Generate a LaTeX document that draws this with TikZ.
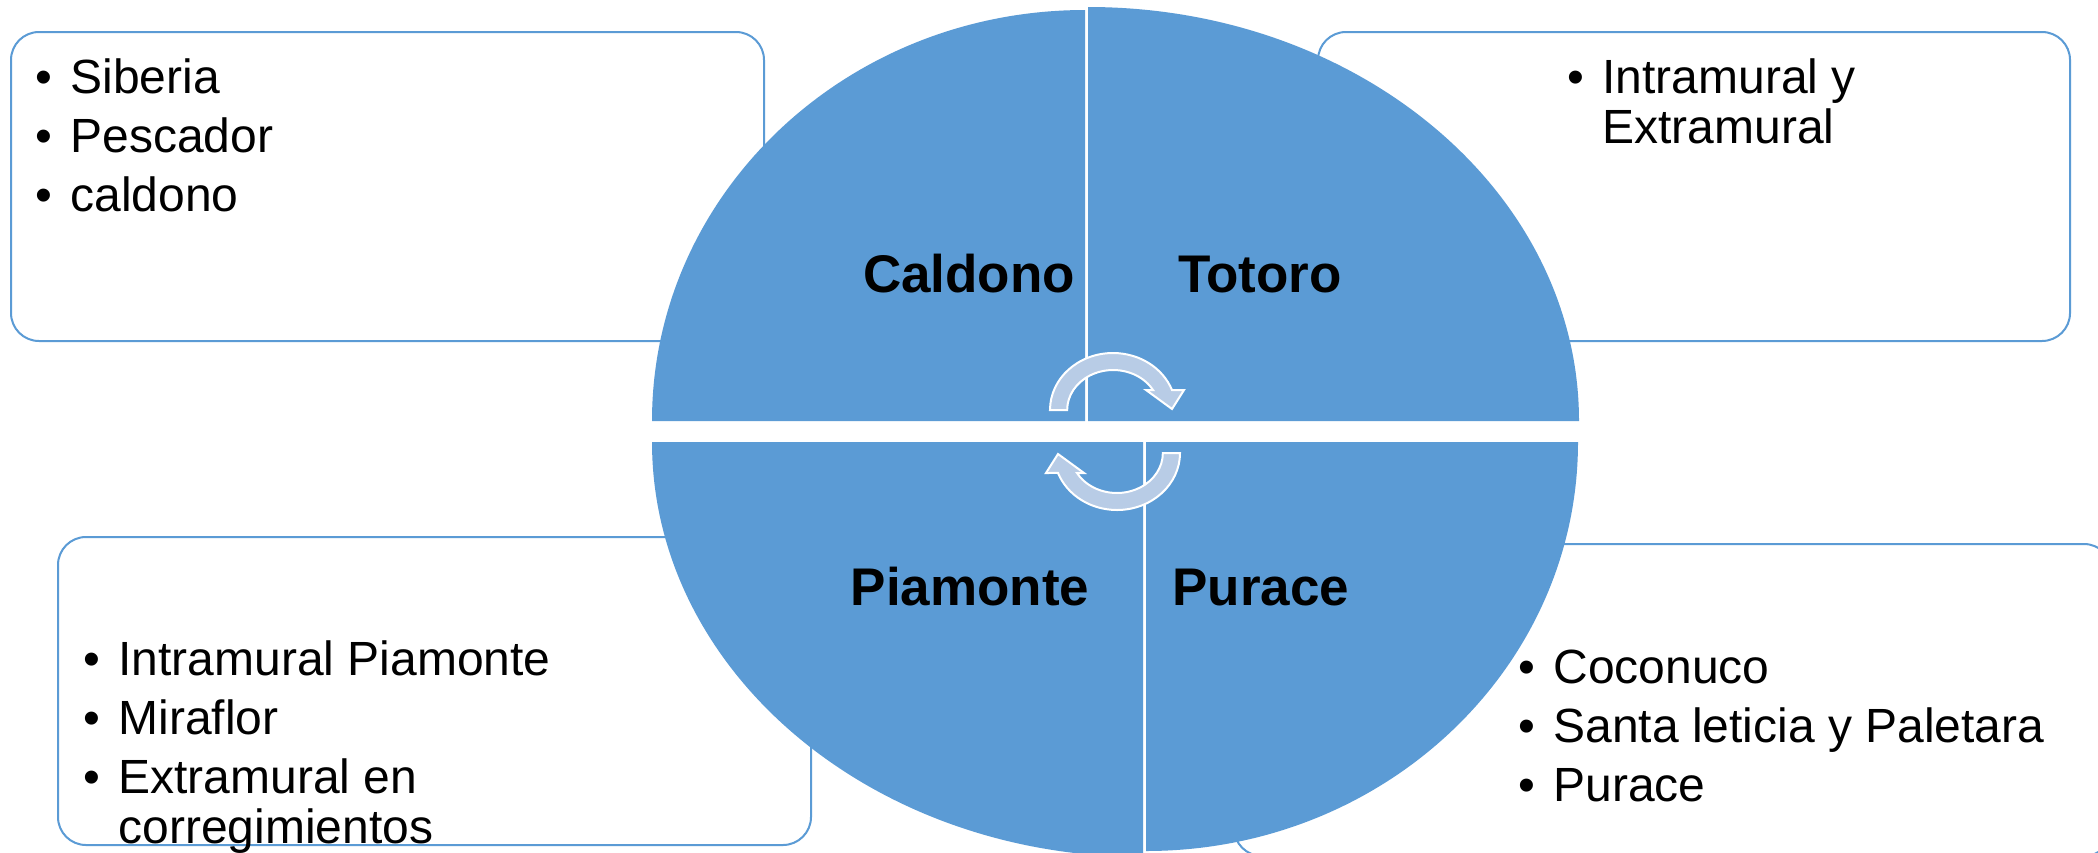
\documentclass[tikz,border=0pt]{standalone}
\usepackage{fontspec}
\setmainfont{Liberation Sans}
\definecolor{wedgeblue}{RGB}{91,155,213}
\definecolor{arrowfill}{RGB}{184,204,230}
\tikzset{
  wedgefill/.style={fill=wedgeblue},
  listbox/.style={draw=wedgeblue, line width=1pt, fill=white, rounded corners=14pt},
  listtext/.style={anchor=base west, inner sep=0pt, font=\fontsize{24}{25}\selectfont},
  quadlabel/.style={anchor=base, inner sep=0pt, font=\fontsize{26.5}{30}\selectfont\bfseries},
  cyclearrow/.style={fill=arrowfill, draw=white, line width=1pt, line join=miter},
}
\newcommand{\bul}{\makebox[17.5pt][l]{\textbullet}}
\newcommand{\hang}{\hspace*{17.5pt}}
\begin{document}
\begin{tikzpicture}[x=0.5pt,y=-0.5pt]
\useasboundingbox (0,0) rectangle (2098,852);
\clip (0,0) rectangle (2098,852);
\fill[white] (0,0) rectangle (2098,852);

% list boxes (behind the circle)
\draw[listbox] (11,32) rectangle (764,341);
\draw[listbox] (1318,32) rectangle (2070,341);
\draw[listbox] (58,537) rectangle (811,845);
\draw[listbox] (1234,544) rectangle (2112,856);

% quadrant wedges
\fill[wedgefill] (1085,421) -- (652,421) arc[start angle=180, end angle=90, x radius=216.5pt, y radius=205.5pt] -- cycle;
\fill[wedgefill] (1088,421) -- (1088,7) arc[start angle=90, end angle=0, x radius=245.5pt, y radius=207pt] -- cycle;
\fill[wedgefill] (1143,442) -- (652,442) arc[start angle=180, end angle=270, x radius=245.5pt, y radius=207.5pt] -- cycle;
\fill[wedgefill] (1146,442) -- (1578,442) arc[start angle=0, end angle=-90, x radius=216pt, y radius=204.5pt] -- cycle;

% quadrant labels
\node[quadlabel] (caldono) at (969,292) {Caldono};
\node[quadlabel] (totoro) at (1260,292) {Totoro};
\node[quadlabel] (piamonte) at (970,605) {Piamonte};
\node[quadlabel] (purace) at (1261,605) {Purace};

% cycle arrows
\path[cyclearrow] (1050,410) arc[start angle=180, end angle=20.5, x radius=31.5pt, y radius=28.5pt]
  -- (1184,390) -- (1172,409) -- (1146,390) -- (1153,390)
  arc[start angle=30, end angle=180, x radius=23pt, y radius=20pt] -- cycle;
\path[cyclearrow, rotate around={180:(1115,431.5)}] (1050,410) arc[start angle=180, end angle=20.5, x radius=31.5pt, y radius=28.5pt]
  -- (1184,390) -- (1172,409) -- (1146,390) -- (1153,390)
  arc[start angle=30, end angle=180, x radius=23pt, y radius=20pt] -- cycle;

% list texts
\node[listtext] (listTL) at (35,93) {\begin{tabular}[t]{@{}l@{}}\bul Siberia\\[4.5pt]\bul Pescador\\[4.5pt]\bul caldono\end{tabular}};
\node[listtext] (listTR) at (1567,93) {\begin{tabular}[t]{@{}l@{}}\bul Intramural y\\\hang Extramural\end{tabular}};
\node[listtext] (listBL) at (83,675) {\begin{tabular}[t]{@{}l@{}}\bul Intramural Piamonte\\[4.5pt]\bul Miraflor\\[4.5pt]\bul Extramural en\\\hang corregimientos\end{tabular}};
\node[listtext] (listBR) at (1518,683) {\begin{tabular}[t]{@{}l@{}}\bul Coconuco\\[4.5pt]\bul Santa leticia y Paletara\\[4.5pt]\bul Purace\end{tabular}};
\end{tikzpicture}
\end{document}
